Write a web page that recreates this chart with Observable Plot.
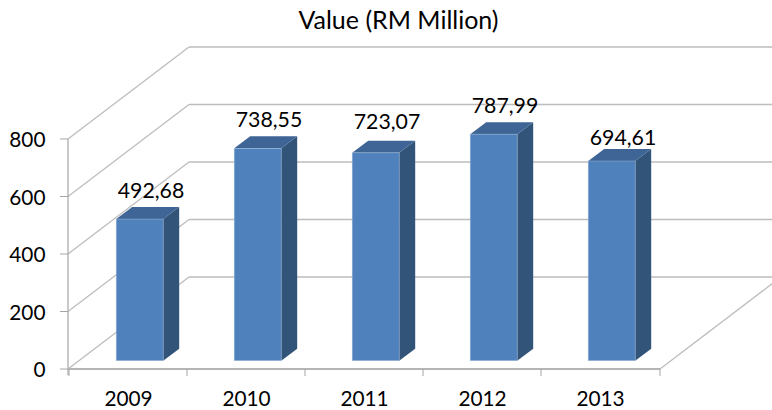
<!DOCTYPE html>
<html>
<head>
<meta charset="utf-8">
<script src="https://cdn.jsdelivr.net/npm/d3@7"></script>
<script src="https://cdn.jsdelivr.net/npm/@observablehq/plot@0.6"></script>
<style>
  html, body { margin: 0; padding: 0; background: #fff; overflow: hidden; }
</style>
</head>
<body>
<div id="chart"></div>
<script>
const chartTitle = "Value (RM Million)";
const years = ["2009", "2010", "2011", "2012", "2013"];
const values = [492.68, 738.55, 723.07, 787.99, 694.61];
const valueLabels = ["492,68", "738,55", "723,07", "787,99", "694,61"];
const yTicks = [0, 200, 400, 600, 800];

const rows = years.map((year, i) => ({year, value: values[i], label: valueLabels[i]}));

const FONT = "Lato, Carlito, sans-serif";
const AXIS_SIZE = 20.8, LABEL_SIZE = 21.3, TITLE_SIZE = 25;
const WALL_DX = 121, WALL_DY = 92;     // depth of the 3D box
const FRONT_DX = 11.7, FRONT_DY = 8.3; // bar front face, inside the box
const SIDE_DX = 16, SIDE_DY = 12;      // depth of a bar
const BAR_INSET = 35.5;

const NS = "http://www.w3.org/2000/svg";
const poly = (pts, attrs) => {
  const el = document.createElementNS(NS, "path");
  el.setAttribute("d", "M" + pts.map(p => p.join(",")).join("L") + "Z");
  for (const k in attrs) el.setAttribute(k, attrs[k]);
  return el;
};
const group = () => document.createElementNS(NS, "g");
const seg = (x1, y1, x2, y2, stroke, w) => {
  const el = document.createElementNS(NS, "line");
  for (const [k, v] of Object.entries({x1, y1, x2, y2, stroke, "stroke-width": w})) el.setAttribute(k, v);
  return el;
};

// Walls and floor of the 3D box, positioned through the scales.
const walls = (index, {x, y}, values, {width, marginRight, marginLeft}) => {
  const g = group();
  const x0 = marginLeft, x1 = width - marginRight;
  for (const t of yTicks) {
    const py = y(t);
    g.append(seg(x0, py, x0 + WALL_DX, py - WALL_DY, "#bdbdbd", 1.3));
    g.append(seg(x0 + WALL_DX, py - WALL_DY, width, py - WALL_DY, "#bdbdbd", 1.3));
  }
  const f = Math.min(1, (width - x1) / WALL_DX);
  g.append(seg(x1, y(0), x1 + WALL_DX * f, y(0) - WALL_DY * f, "#bdbdbd", 1.3));
  return g;
};

// Side and top faces of every bar.
const sides = (index, {x, y}) => {
  const g = group();
  for (const r of rows) {
    const bw = x.bandwidth();
    const l = x(r.year) + BAR_INSET + FRONT_DX, rr = x(r.year) + bw - BAR_INSET + FRONT_DX;
    const top = y(r.value) - FRONT_DY, bot = y(0) - FRONT_DY;
    g.append(poly([[rr, top], [rr + SIDE_DX, top - SIDE_DY], [rr + SIDE_DX, bot - SIDE_DY], [rr, bot]], {fill: "#335479"}));
    g.append(poly([[l, top], [l + SIDE_DX, top - SIDE_DY], [rr + SIDE_DX, top - SIDE_DY], [rr, top]], {fill: "#3e6595"}));
  }
  return g;
};

// Axis lines and ticks.
const frame = (index, {x, y}, values, {width, marginLeft, marginRight}) => {
  const g = group();
  const x0 = marginLeft, x1 = width - marginRight;
  g.append(seg(x0, y(800), x0, y(0) + 6, "#a6a6a6", 1.2));
  g.append(seg(x0, y(0), x1, y(0), "#b5b5b5", 2));
  for (const e of [...years.map(d => x(d)), x1]) g.append(seg(e, y(0), e, y(0) + 7, "#a6a6a6", 1));
  for (const t of yTicks) g.append(seg(x0 - 8, y(t), x0, y(t), "#a6a6a6", 1));
  return g;
};

const valueText = (data, dy) => Plot.text(data, {
  x: "year", y: "value", text: "label",
  dx: 22.5, dy, fill: "#000", fontSize: LABEL_SIZE, lineAnchor: "middle"
});

const chart = Plot.plot({
  width: 772,
  height: 410,
  marginLeft: 68,
  marginRight: 112,
  marginTop: 139,
  marginBottom: 41,
  style: {fontFamily: FONT, fontSize: AXIS_SIZE + "px", background: "#fff", overflow: "hidden"},
  x: {domain: years, padding: 0, label: null},
  y: {domain: [0, 800], label: null},
  marks: [
    walls,
    sides,
    Plot.barY(rows, {
      x: "year", y: "value", fill: "#4f81bd",
      stroke: "#a9c0dc", strokeWidth: 0.6, strokeOpacity: 0.7,
      insetLeft: BAR_INSET, insetRight: BAR_INSET,
      dx: FRONT_DX, dy: -FRONT_DY
    }),
    frame,
    Plot.axisY({ticks: yTicks, tickSize: 0, tickPadding: 23, dy: 1, fill: "#000", fontSize: AXIS_SIZE, label: null}),
    Plot.axisX({tickSize: 0, tickPadding: 22, fill: "#000", fontSize: AXIS_SIZE, label: null}),
    valueText(rows.filter(r => r.year === "2009" || r.year === "2010" || r.year === "2012"), -37),
    valueText(rows.filter(r => r.year === "2011"), -39),
    valueText(rows.filter(r => r.year === "2013"), -32),
    Plot.text([chartTitle], {
      frameAnchor: "top", lineAnchor: "middle",
      dx: 34, dy: -119, fill: "#000", fontSize: TITLE_SIZE
    })
  ]
});
document.getElementById("chart").append(chart);
</script>
</body>
</html>
